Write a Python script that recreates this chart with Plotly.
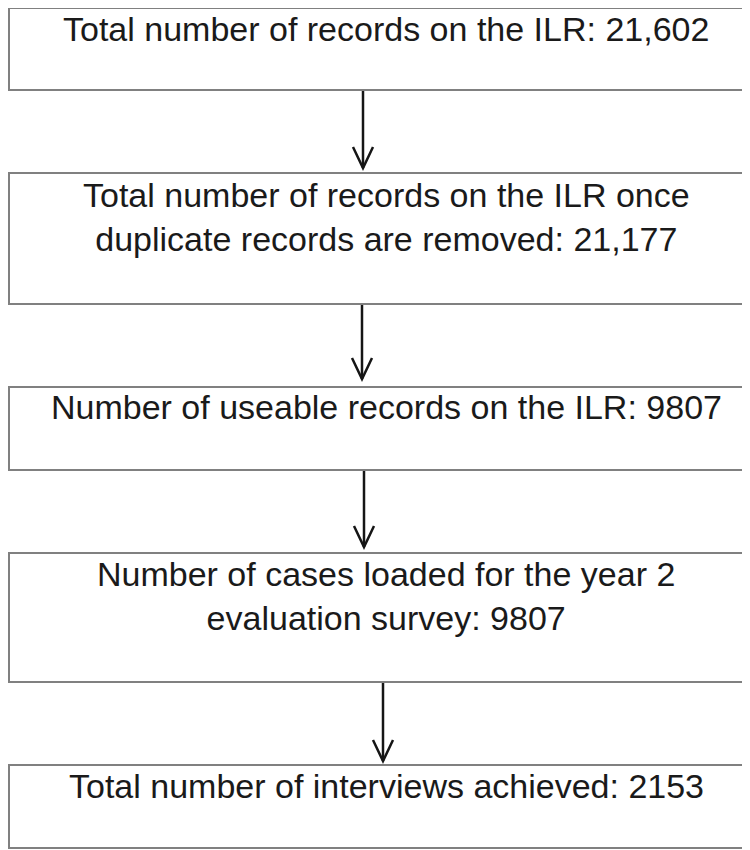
"""
Flow diagram of ILR records down to achieved interviews.
"""

import plotly.graph_objects as go

# text of each step (data)
steps = [
    "Total number of records on the ILR: 21,602",
    "Total number of records on the ILR once<br>duplicate records are removed: 21,177",
    "Number of useable records on the ILR: 9807",
    "Number of cases loaded for the year 2<br>evaluation survey: 9807",
    "Total number of interviews achieved: 2153",
]

# layout of the boxes, in page pixels (axes are set so 1 unit = 1 px)
box_left, box_right = 9, 748
box_top = [8, 173, 387, 553, 765]
box_bottom = [90, 304, 470, 682, 848]
text_y = [29, 217, 407, 596, 786]
text_x = 386
arrow_x = [363, 362, 364, 383]
arrow_tip = [168, 379, 547, 761]

fig = go.Figure()

shapes = []
for top, bottom in zip(box_top, box_bottom):
    shapes.append(dict(type="rect", xref="x", yref="y",
                       x0=box_left, x1=box_right, y0=top, y1=bottom,
                       line=dict(color="#808080", width=2),
                       fillcolor="white", layer="below"))

for i, ax in enumerate(arrow_x):
    y0 = box_bottom[i] + 1
    y1 = arrow_tip[i]
    shapes.append(dict(type="line", xref="x", yref="y",
                       x0=ax, x1=ax, y0=y0, y1=y1,
                       line=dict(color="#151515", width=2.5)))
    head = "M %g,%g L %g,%g L %g,%g" % (ax - 10, y1 - 21, ax, y1, ax + 10, y1 - 21)
    shapes.append(dict(type="path", xref="x", yref="y", path=head,
                       line=dict(color="#151515", width=2.5)))

for label, ty in zip(steps, text_y):
    fig.add_annotation(x=text_x, y=ty, xref="x", yref="y", text=label,
                       showarrow=False, xanchor="center", yanchor="middle",
                       font=dict(family="Liberation Sans, Arial", size=34,
                                 color="#1a1a1a"))

# invisible trace so the axes exist
fig.add_trace(go.Scatter(x=[8, 758], y=[8, 858], mode="markers",
                         marker=dict(opacity=0), hoverinfo="skip",
                         showlegend=False))

# the page body adds an 8 px offset, so the axes start at 8
fig.update_layout(
    width=750, height=850,
    margin=dict(l=0, r=0, t=0, b=0),
    paper_bgcolor="white", plot_bgcolor="white",
    shapes=shapes,
    xaxis=dict(range=[8, 758], visible=False, fixedrange=True),
    yaxis=dict(range=[858, 8], visible=False, fixedrange=True),
)

fig.write_html("out.html")
